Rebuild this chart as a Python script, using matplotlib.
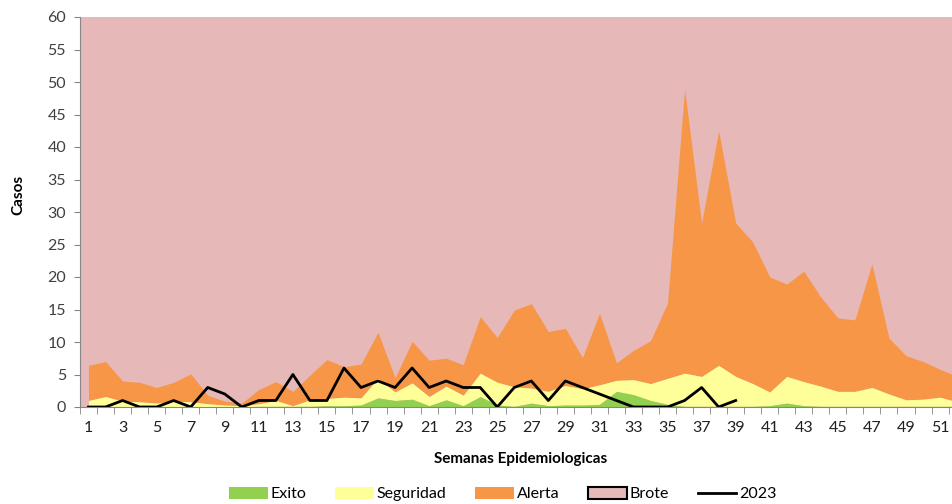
import matplotlib
matplotlib.use("Agg")
import matplotlib.pyplot as plt
from matplotlib.patches import Patch
from matplotlib.lines import Line2D
import numpy as np

plt.rcParams['font.family'] = ['Lato', 'DejaVu Sans']

weeks = list(range(1, 53))
exito_top = [0.05, 0.1, 0.05, 0.05, 0.05, 0.05, 0.05, 0.05, 0.05, 0.05, 0.1, 0.1, 0.1,
             0.1, 0.2, 0.2, 0.3, 1.4, 1.0, 1.2, 0.2, 1.1, 0.2, 1.6, 0.3, 0.1, 0.6, 0.2,
             0.3, 0.3, 0.4, 2.4, 1.9, 1.0, 0.4, 0.1, 0.1, 0.1, 0.1, 0.1, 0.2, 0.6, 0.2,
             0.1, 0.1, 0.1, 0.1, 0.1, 0.1, 0.1, 0.1, 0.1]
seguridad_top = [1.0, 1.6, 0.9, 0.8, 0.6, 0.9, 0.8, 0.5, 0.3, 0.2, 0.5, 1.0, 0.2,
                 1.1, 1.3, 1.5, 1.4, 4.4, 2.3, 3.7, 1.6, 3.2, 1.8, 5.2, 3.8, 3.1, 2.9,
                 2.4, 3.3, 2.8, 3.4, 4.1, 4.2, 3.6, 4.4, 5.2, 4.7, 6.4, 4.7, 3.6, 2.3,
                 4.7, 3.9, 3.2, 2.4, 2.4, 3.0, 2.0, 1.1, 1.2, 1.5, 0.8]
alerta_top = [6.4, 7.0, 4.0, 3.8, 3.0, 3.8, 5.1, 1.8, 0.9, 0.6, 2.7, 3.9, 2.4,
              4.9, 7.3, 6.2, 6.6, 11.5, 4.5, 10.1, 7.2, 7.5, 6.5, 13.9, 10.7, 14.9,
              15.9, 11.6, 12.1, 7.6, 14.4, 6.8, 8.7, 10.2, 16.0, 48.9, 28.3, 42.5,
              28.3, 25.4, 20.0, 18.9, 20.9, 16.9, 13.7, 13.4, 22.0, 10.6, 7.9, 7.0,
              5.8, 4.7]
brote_top = [60] * 52
weeks_2023 = list(range(1, 40))
casos_2023 = [0, 0, 1, 0, 0, 1, 0, 3, 2, 0, 1, 1, 5, 1, 1, 6, 3, 4, 3, 6, 3, 4, 3, 3,
              0, 3, 4, 1, 4, 3, 2, 1, 0, 0, 0, 1, 3, 0, 1]
xtick_labels = [str(w) for w in range(1, 52, 2)]

c_exito = '#92D050'
c_seg = '#FFFF99'
c_alerta = '#F79646'
c_brote = '#E6B8B7'

fig = plt.figure(figsize=(9.53, 5.04), dpi=100)
ax = fig.add_axes([80/953, 97/504, 1 - 80/953, 390/504])
ax.set_facecolor(c_brote)

ax.fill_between(weeks, alerta_top, brote_top, color=c_brote, lw=0)
ax.fill_between(weeks, seguridad_top, alerta_top, color=c_alerta, lw=0)
ax.fill_between(weeks, exito_top, seguridad_top, color=c_seg, lw=0)
ax.fill_between(weeks, 0, exito_top, color=c_exito, lw=0)
ax.plot(weeks_2023, casos_2023, color='black', lw=2.0, zorder=5)

ax.set_xlim(0.5, 51.76)
ax.set_ylim(0, 60)
ax.set_yticks(np.arange(0, 61, 5))
ax.tick_params(axis='y', labelsize=11.5, length=4, color='#868686', pad=6, labelcolor='#404040')

ax.set_xticks(np.arange(0.5, 52.5, 1.0), minor=True)
ax.set_xticks(range(1, 52, 2))
ax.set_xticklabels(xtick_labels)
ax.tick_params(axis='x', which='major', length=0, labelsize=11.5, pad=10, labelcolor='#202020')
ax.tick_params(axis='x', which='minor', length=5, color='#868686')

for s in ['top', 'right']:
    ax.spines[s].set_visible(False)
ax.spines['left'].set_color('#868686')
ax.spines['bottom'].set_color('#868686')

fig.text(18/953, 1 - 195/504, 'Casos', rotation=90, ha='center', va='center',
         fontsize=11, fontweight='bold')
fig.text(521/953, 1 - 459/504, 'Semanas Epidemiologicas', ha='center', va='center',
         fontsize=11, fontweight='bold')

handles = [Patch(facecolor=c_exito, edgecolor='none', label='Exito'),
           Patch(facecolor=c_seg, edgecolor='none', label='Seguridad'),
           Patch(facecolor=c_alerta, edgecolor='none', label='Alerta'),
           Patch(facecolor=c_brote, edgecolor='black', lw=1.5, label='Brote'),
           Line2D([0], [0], color='black', lw=2.0, label='2023')]
fig.legend(handles=handles, loc='center', bbox_to_anchor=(503/953, 10/504), ncol=5,
           frameon=False, fontsize=11.5, handlelength=2.4, handleheight=0.8,
           handletextpad=0.2, columnspacing=1.8)

fig.savefig('out.png', dpi=100)
